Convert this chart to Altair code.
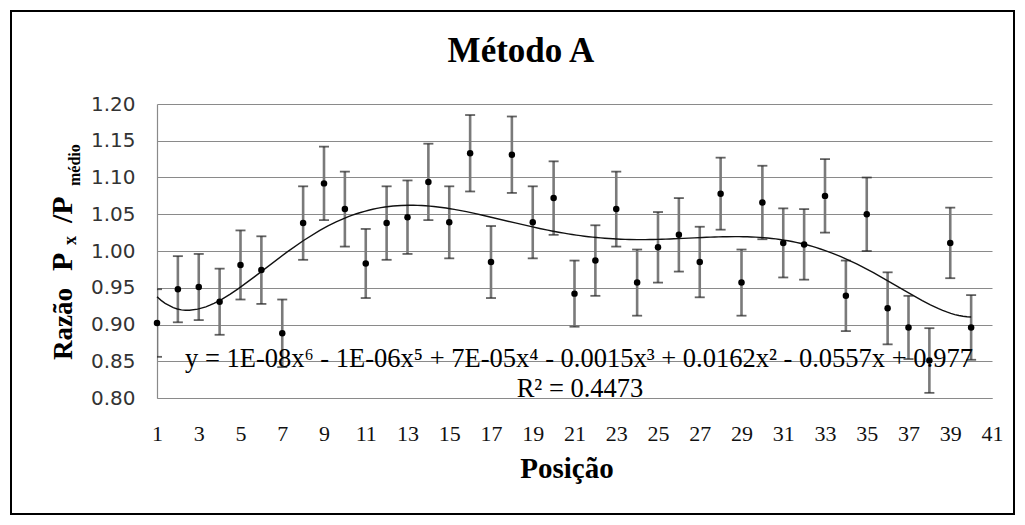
import altair as alt
import pandas as pd

# ---- data ----
posicao = list(range(1, 41))
razao = [0.902, 0.948, 0.951, 0.931, 0.981, 0.974, 0.888, 1.038, 1.092, 1.057,
         0.983, 1.038, 1.046, 1.094, 1.039, 1.133, 0.985, 1.131, 1.039, 1.072,
         0.942, 0.987, 1.057, 0.957, 1.005, 1.022, 0.985, 1.078, 0.957, 1.066,
         1.011, 1.009, 1.075, 0.939, 1.050, 0.922, 0.896, 0.851, 1.011, 0.896]
erro = [0.046, 0.045, 0.045, 0.045, 0.047, 0.046, 0.046, 0.050, 0.050, 0.051,
        0.047, 0.050, 0.050, 0.052, 0.049, 0.052, 0.049, 0.052, 0.049, 0.050,
        0.045, 0.048, 0.051, 0.045, 0.048, 0.050, 0.048, 0.049, 0.045, 0.050,
        0.047, 0.048, 0.050, 0.048, 0.050, 0.049, 0.043, 0.044, 0.048, 0.044]
x_ticks = list(range(1, 42, 2))
y_ticks = [0.80, 0.85, 0.90, 0.95, 1.00, 1.05, 1.10, 1.15, 1.20]

titulo = "Método A"
titulo_x = "Posição"
equacao = "y = 1E-08x\u2076 - 1E-06x\u2075 + 7E-05x\u2074 - 0.0015x\u00b3 + 0.0162x\u00b2 - 0.0557x + 0.977"
r2 = "R\u00b2 = 0.4473"

df = pd.DataFrame({"pos": posicao, "raz": razao, "err": erro})
df["lo"] = df["raz"] - df["err"]
df["hi"] = df["raz"] + df["err"]

W, H = 835, 294
SERIF = "Liberation Serif"
GRID = "#8a8a8a"

xs = alt.Scale(domain=[1, 41], nice=False, zero=False)
ys = alt.Scale(domain=[0.80, 1.20], nice=False, zero=False)

xaxis = alt.Axis(values=x_ticks, grid=False, ticks=False, tickSize=0,
                 labelFont=SERIF, labelFontSize=22, labelColor="#111",
                 labelPadding=25, domainColor=GRID, domainWidth=1.2,
                 labelFlush=False, labelOverlap=False)
yaxis = alt.Axis(values=y_ticks, format=".2f", grid=True, gridColor=GRID,
                 gridWidth=1.2, ticks=False, tickSize=0,
                 labelFont="DejaVu Sans", labelFontSize=20, labelColor="#333",
                 labelPadding=22, domainColor=GRID, domainWidth=1.2,
                 labelOverlap=False)

base = alt.Chart(df)

bars = base.mark_rule(color="#7a7a7a", strokeWidth=2.6, clip=True).encode(
    x=alt.X("pos:Q", scale=xs, title=None, axis=xaxis),
    y=alt.Y("lo:Q", scale=ys, title=None, axis=yaxis), y2="hi:Q")
caps_hi = base.mark_tick(color="#222", orient="horizontal", size=10, thickness=1.8, clip=True).encode(
    x=alt.X("pos:Q", scale=xs, title=None, axis=xaxis),
    y=alt.Y("hi:Q", scale=ys, title=None, axis=yaxis))
caps_lo = base.mark_tick(color="#222", orient="horizontal", size=10, thickness=1.8, clip=True).encode(
    x=alt.X("pos:Q", scale=xs, title=None, axis=xaxis),
    y=alt.Y("lo:Q", scale=ys, title=None, axis=yaxis))
trend = base.transform_regression("pos", "raz", method="poly", order=6).mark_line(
    color="#111", strokeWidth=1.4).encode(
    x=alt.X("pos:Q", scale=xs, title=None, axis=xaxis),
    y=alt.Y("raz:Q", scale=ys, title=None, axis=yaxis))
points = base.mark_circle(color="#000", opacity=1, size=42).encode(
    x=alt.X("pos:Q", scale=xs, title=None, axis=xaxis),
    y=alt.Y("raz:Q", scale=ys, title=None, axis=yaxis))

one = pd.DataFrame({"k": [0]})


def label(text, x, y, size, bold=False, angle=0, align="center", baseline="alphabetic", font=SERIF):
    kw = dict(text=text, font=font, fontSize=size, color="#000", align=align, baseline=baseline)
    if bold:
        kw["fontWeight"] = "bold"
    if angle:
        kw["angle"] = angle
    return alt.Chart(one).mark_text(**kw).encode(x=alt.value(x), y=alt.value(y))


texts = [
    label(titulo, 364, -42, 35, bold=True),
    label(titulo_x, 410, 374, 29, bold=True),
    label(equacao, 422, 263, 26.5),
    label(r2, 423, 293, 26.5),
    label("Razão", -85, 256, 27, bold=True, angle=270, align="left"),
    label("P", -85, 167, 30, bold=True, angle=270, align="left"),
    label("x", -81, 141, 18, bold=True, angle=270, align="left"),
    label("/P", -85, 119, 30, bold=True, angle=270, align="left"),
    label("médio", -77, 82, 16, bold=True, angle=270, align="left"),
]

border = alt.Chart(one).mark_rect(fill=None, stroke="#000", strokeWidth=2).encode(
    x=alt.value(-146), x2=alt.value(857), y=alt.value(-93), y2=alt.value(410))

chart = alt.layer(bars, caps_hi, caps_lo, trend, points, *texts, border).properties(
    width=W, height=H,
    padding={"left": 149, "top": 96, "right": 25, "bottom": 119},
    autosize="none",
    background="white",
).configure_view(stroke=None)

chart.save("out.html", embed_options={"renderer": "svg", "actions": False})
